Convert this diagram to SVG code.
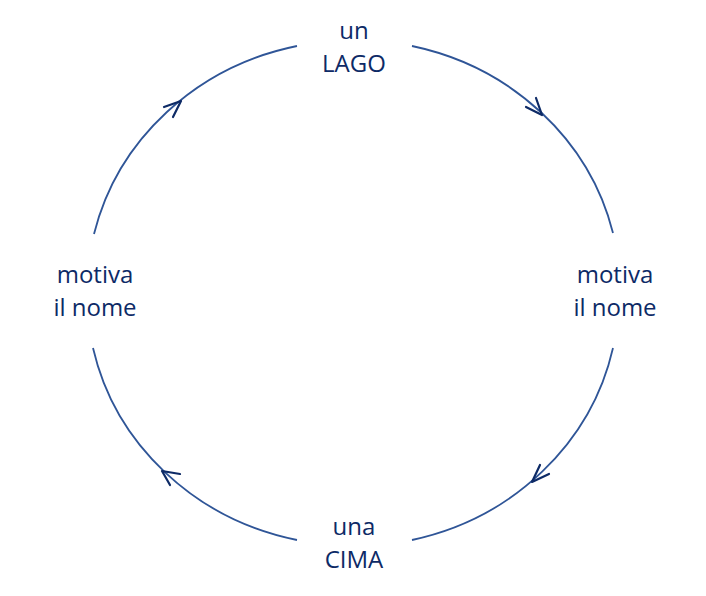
<svg xmlns="http://www.w3.org/2000/svg" width="706" height="596" viewBox="0 0 706 596">
<style>
.arc{fill:none;stroke:#2f5597;stroke-width:1.8}
.head{fill:none;stroke:#0d2a66;stroke-width:2.2;stroke-linecap:round;stroke-linejoin:round}
text{font-family:"Open Sans","Liberation Sans",sans-serif;font-size:24px;fill:#0d2a66;text-anchor:middle}
</style>
<rect width="706" height="596" fill="#ffffff"/>
<g id="connectors">
<path class="arc" d="M94,234 A266,251 0 0 1 297,46"/>
<polyline class="head" points="164,107 181,101 173,117"/>
<path class="arc" d="M412,46 A266,251 0 0 1 613,233"/>
<polyline class="head" points="526,107 542,115 536,98"/>
<path class="arc" d="M613,348 A266,251 0 0 1 412,540"/>
<polyline class="head" points="540,465 532,482 549,474"/>
<path class="arc" d="M297,540 A266,251 0 0 1 93,348"/>
<polyline class="head" points="180,474 162,471 170,485"/>
</g>
<g id="node-lago">
<text x="354" y="39">un</text>
<text x="354" y="72">LAGO</text>
</g>
<g id="node-right">
<text x="615" y="283">motiva</text>
<text x="615" y="316">il nome</text>
</g>
<g id="node-cima">
<text x="354" y="535">una</text>
<text x="354" y="568">CIMA</text>
</g>
<g id="node-left">
<text x="95" y="283">motiva</text>
<text x="95" y="316">il nome</text>
</g>
</svg>
